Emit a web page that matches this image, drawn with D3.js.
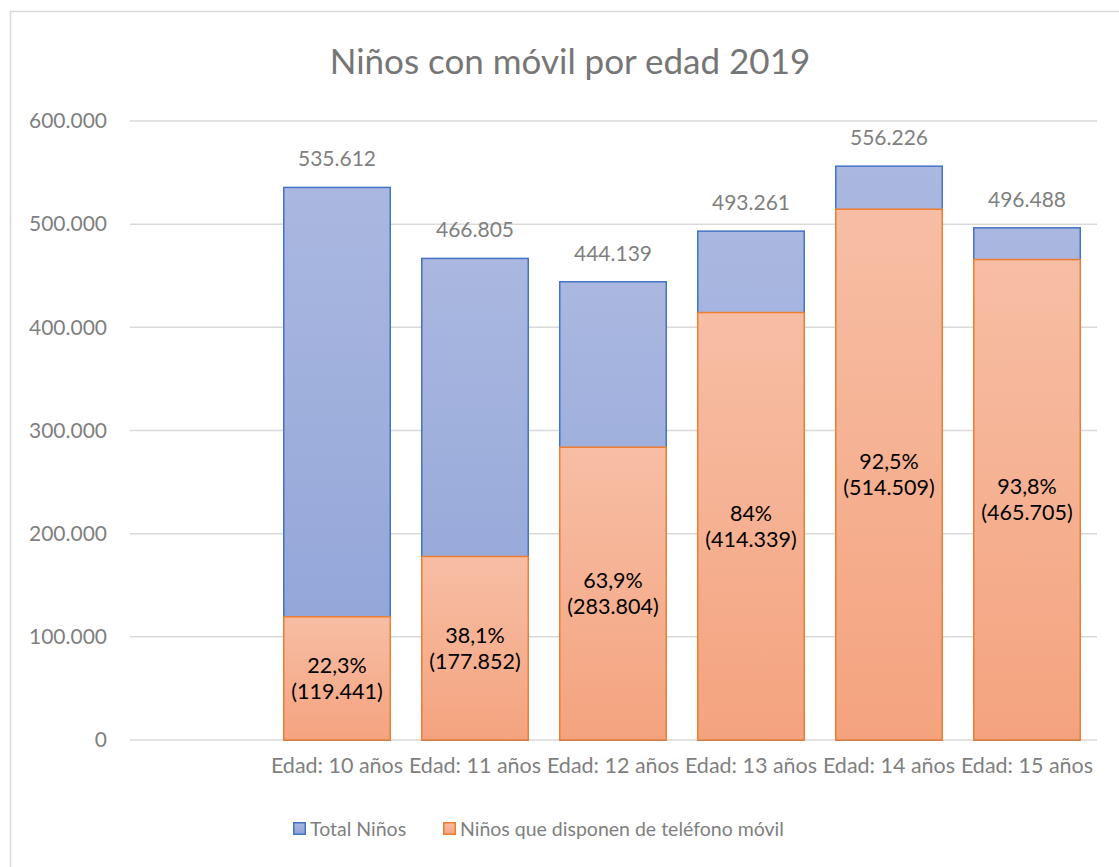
<!DOCTYPE html>
<html><head><meta charset="utf-8">
<script src="https://cdn.jsdelivr.net/npm/d3@7"></script>
<style>
body{margin:0;background:#fff;}
svg{display:block;font-family:Lato,"Noto Sans",sans-serif;}
</style></head>
<body>
<svg id="c" width="1119" height="867"></svg>
<script>
const categories = ["", "Edad: 10 años", "Edad: 11 años", "Edad: 12 años", "Edad: 13 años", "Edad: 14 años", "Edad: 15 años"];
const totalNinos = [null, 535612, 466805, 444139, 493261, 556226, 496488];
const conMovil = [null, 119441, 177852, 283804, 414339, 514509, 465705];
const porcentajes = [null, "22,3%", "38,1%", "63,9%", "84%", "92,5%", "93,8%"];
const yTicks = [0, 100000, 200000, 300000, 400000, 500000, 600000];
const seriesNames = ["Total Niños", "Niños que disponen de teléfono móvil"];

const svg = d3.select("#c");
const fmt = d3.formatLocale({decimal: ",", thousands: ".", grouping: [3], currency: ["", ""]}).format(",d");

const defs = svg.append("defs");
const gb = defs.append("linearGradient").attr("id","gb").attr("x1",0).attr("y1",0).attr("x2",0).attr("y2",1);
gb.append("stop").attr("offset","0%").attr("stop-color","#aab8e0");
gb.append("stop").attr("offset","100%").attr("stop-color","#8ea2d7");
const go = defs.append("linearGradient").attr("id","go").attr("x1",0).attr("y1",0).attr("x2",0).attr("y2",1);
go.append("stop").attr("offset","0%").attr("stop-color","#f7bea5");
go.append("stop").attr("offset","100%").attr("stop-color","#f4a37e");

// chart border
svg.append("rect").attr("x",10.5).attr("y",11.5).attr("width",1120).attr("height",870)
  .attr("fill","none").attr("stroke","#d9d9d9").attr("stroke-width",1.5);

const x = d3.scaleBand().domain(categories).range([130, 1096]).paddingInner(30/138).paddingOuter(15/138);
const y = d3.scaleLinear().domain([0, 600000]).range([740, 121]);

// gridlines
svg.append("g").selectAll("line").data(yTicks).join("line")
  .attr("x1",130).attr("x2",1097).attr("y1",d=>y(d)).attr("y2",d=>y(d))
  .attr("stroke","#d9d9d9").attr("stroke-width",1.5);

// y axis labels
const yAxis = d3.axisLeft(y).tickValues(yTicks).tickFormat(d=>fmt(d)).tickSize(0).tickPadding(0);
const ya = svg.append("g").attr("transform","translate(107,0)").call(yAxis);
ya.select(".domain").remove();
ya.selectAll("text").attr("font-size",21).attr("fill","#7f7f7f").attr("font-family","Lato");

// x axis labels
const xAxis = d3.axisBottom(x).tickSize(0).tickPadding(0);
const xa = svg.append("g").attr("transform","translate(0,757)").call(xAxis);
xa.select(".domain").remove();
xa.selectAll("text").attr("font-size",21.5).attr("fill","#7f7f7f").attr("font-family","Lato").attr("dy","0.75em");

const idx = d3.range(categories.length).filter(i=>totalNinos[i]!=null);

// total bars
svg.append("g").selectAll("rect").data(idx).join("rect")
  .attr("x",i=>x(categories[i])+0.75).attr("width",x.bandwidth()-1.5)
  .attr("y",i=>y(totalNinos[i])).attr("height",i=>y(0)-y(totalNinos[i]))
  .attr("fill","url(#gb)").attr("stroke","#4472c4").attr("stroke-width",1.5);

// mobile bars (overlap)
svg.append("g").selectAll("rect").data(idx).join("rect")
  .attr("x",i=>x(categories[i])+0.75).attr("width",x.bandwidth()-1.5)
  .attr("y",i=>y(conMovil[i])).attr("height",i=>y(0)-y(conMovil[i]))
  .attr("fill","url(#go)").attr("stroke","#ed7d31").attr("stroke-width",1.5);

// total labels
svg.append("g").selectAll("text").data(idx).join("text")
  .attr("x",i=>x(categories[i])+x.bandwidth()/2).attr("y",i=>y(totalNinos[i])-21)
  .attr("text-anchor","middle").attr("font-size",21).attr("fill","#7f7f7f")
  .text(i=>fmt(totalNinos[i]));

// inner labels
const inner = svg.append("g").selectAll("text").data(idx).join("text")
  .attr("text-anchor","middle").attr("font-size",21.5).attr("fill","#000");
inner.each(function(i){
  const cx = x(categories[i])+x.bandwidth()/2;
  const cy = (y(conMovil[i])+y(0))/2;
  const t = d3.select(this);
  t.append("tspan").attr("x",cx).attr("y",cy-13).attr("dy","0.35em").text(porcentajes[i]);
  t.append("tspan").attr("x",cx).attr("y",cy+13).attr("dy","0.35em").text("(" + fmt(conMovil[i]) + ")");
});

// title
svg.append("text").attr("x",570).attr("y",74).attr("text-anchor","middle")
  .attr("font-size",35).attr("fill","#767676").text("Niños con móvil por edad 2019");

// legend
const leg = [{x:293, fill:"url(#gb)", stroke:"#4472c4"},{x:443, fill:"url(#go)", stroke:"#ed7d31"}];
const lg = svg.append("g").selectAll("g").data(leg).join("g");
lg.append("rect").attr("x",d=>d.x+0.75).attr("y",822.75).attr("width",11.5).attr("height",11.5)
  .attr("fill",d=>d.fill).attr("stroke",d=>d.stroke).attr("stroke-width",1.5);
lg.append("text").attr("x",d=>d.x+17).attr("y",829).attr("dy","0.35em").attr("font-size",19.5)
  .attr("fill","#7f7f7f").text((d,i)=>seriesNames[i]);
</script>
</body></html>
